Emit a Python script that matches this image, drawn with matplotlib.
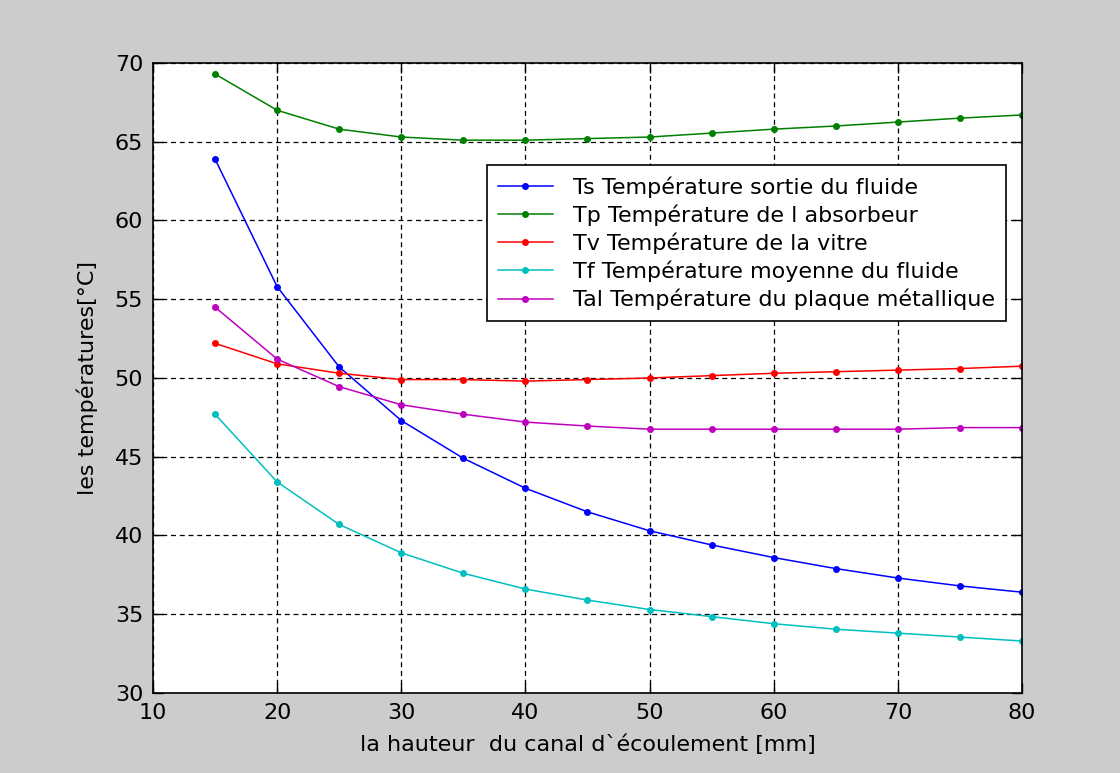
import numpy as np
import matplotlib
matplotlib.use('Agg')
import matplotlib.pyplot as plt

# hauteur du canal [mm]
hauteur = [15, 20, 25, 30, 35, 40, 45, 50, 55, 60, 65, 70, 75, 80]

ts = [63.9, 55.8, 50.7, 47.3, 44.9, 43.0, 41.5, 40.3, 39.4, 38.6, 37.9, 37.3, 36.8, 36.4]
tp = [69.3, 67.0, 65.8, 65.3, 65.1, 65.1, 65.2, 65.3, 65.55, 65.8, 66.0, 66.25, 66.5, 66.7]
tv = [52.2, 50.9, 50.3, 49.9, 49.9, 49.8, 49.9, 50.0, 50.15, 50.3, 50.4, 50.5, 50.6, 50.75]
tf = [47.7, 43.4, 40.7, 38.9, 37.6, 36.6, 35.9, 35.3, 34.85, 34.4, 34.05, 33.8, 33.55, 33.3]
tal = [54.5, 51.2, 49.45, 48.3, 47.7, 47.2, 46.95, 46.75, 46.75, 46.75, 46.75, 46.75, 46.85, 46.85]

labels = ['Ts Température sortie du fluide',
          'Tp Température de l absorbeur',
          'Tv Température de la vitre',
          'Tf Température moyenne du fluide',
          'Tal Température du plaque métallique']
colors = ['#0000ff', '#008000', '#ff0000', '#00bfbf', '#bf00bf']

xticks = [10, 20, 30, 40, 50, 60, 70, 80]
yticks = [30, 35, 40, 45, 50, 55, 60, 65, 70]

plt.rcParams['font.family'] = ['DejaVu Sans']

fig = plt.figure(figsize=(11.2, 7.73), dpi=100, facecolor='#cccccc')
ax = fig.add_axes([0.1366, 0.1035, 0.7759, 0.815])

for y, lab, c in zip([ts, tp, tv, tf, tal], labels, colors):
    ax.plot(hauteur, y, '.-', color=c, lw=1.1, ms=8, label=lab)

ax.set_xlim(10, 80)
ax.set_ylim(30, 70)
ax.set_xticks(xticks)
ax.set_yticks(yticks)
ax.grid(True, color='black', linestyle=(0, (4, 3)), linewidth=0.9)
ax.tick_params(direction='in', length=7, width=1, top=True, right=True,
               labelsize=16, pad=7)
for s in ax.spines.values():
    s.set_linewidth(1.2)

ax.set_xlabel('la hauteur  du canal d`écoulement [mm]', fontsize=16, va='center')
ax.set_ylabel('les températures[°C]', fontsize=16, va='center')
ax.xaxis.set_label_coords(0.5, -0.0825)
ax.yaxis.set_label_coords(-0.076, 0.5)

leg = ax.legend(loc='upper right', bbox_to_anchor=(0.982, 0.838), fontsize=16,
                fancybox=False, framealpha=1, edgecolor='black',
                borderpad=0.5, labelspacing=0.3, handlelength=2.5,
                handletextpad=0.9, borderaxespad=0)
leg.get_frame().set_linewidth(1.2)

fig.savefig('out.png', dpi=100, facecolor=fig.get_facecolor())
